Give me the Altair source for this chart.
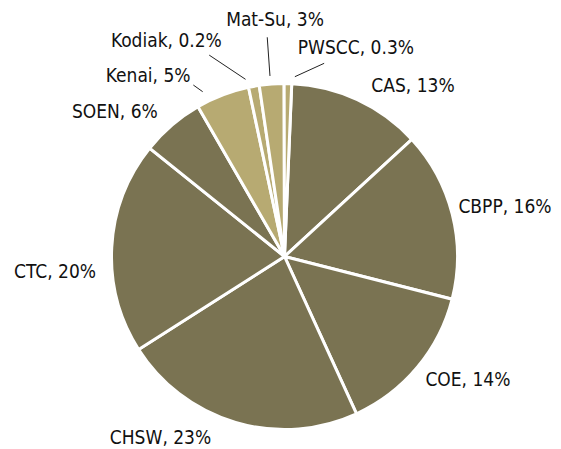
import math
import altair as alt
import pandas as pd

# ---- data ----
categories = ["CAS", "CBPP", "COE", "CHSW", "CTC", "SOEN", "Kenai", "Kodiak", "Mat-Su", "PWSCC"]
values = [12.5, 15.8, 14.2, 22.8, 19.8, 5.9, 5.0, 1.0, 2.3, 0.7]
label_pct = ["13%", "16%", "14%", "23%", "20%", "6%", "5%", "0.2%", "3%", "0.3%"]
shade = ["dark", "dark", "dark", "dark", "dark", "dark", "light", "light", "light", "light"]

# ---- layout (polar, degrees clockwise from 12 o'clock; radius in px) ----
W, H = 545, 433
CX, CY = 276.5, 248.5
R = 173
START_DEG = 2.4
label_angle = [37.0, 77.3, 123.9, 214.3, 266.1, 310.4, 322.9, 331.3, 357.7, 18.9]
label_radius = [213.5, 226, 221, 220, 230, 222.7, 226, 246.0, 236.5, 220.4]
leader_cats = ["Kenai", "Kodiak", "Mat-Su", "PWSCC"]
leader_in = [(333.6, 184.0), (347.6, 181.4), (355.4, 181.1), (3.3, 180.1)]
leader_out = [(332.0, 194.2), (339.5, 215.0), (355.5, 219.9), (11.6, 197.2)]


def polar(a_deg, r):
    a = math.radians(a_deg)
    return CX + r * math.sin(a), CY - r * math.cos(a)


pie = pd.DataFrame({
    "cat": categories,
    "value": values,
    "shade": shade,
    "idx": list(range(len(categories))),
})

lab_rows = []
for c, p, a, r in zip(categories, label_pct, label_angle, label_radius):
    x, y = polar(a, r)
    lab_rows.append({"text": f"{c}, {p}", "lx": x, "ly": y})
labels = pd.DataFrame(lab_rows)

lead_rows = []
for c, (ai, ri), (ao, ro) in zip(leader_cats, leader_in, leader_out):
    x1, y1 = polar(ai, ri)
    x2, y2 = polar(ao, ro)
    lead_rows.append({"cat": c, "x1": x1, "y1": y1, "x2": x2, "y2": y2})
leaders = pd.DataFrame(lead_rows)

total = sum(values)
start = math.radians(START_DEG)

arcs = alt.Chart(pie).mark_arc(radius=R, stroke="white", strokeWidth=3).encode(
    theta=alt.Theta("value:Q", stack=True,
                    scale=alt.Scale(domain=[0, total], range=[start, start + 2 * math.pi])),
    color=alt.Color("shade:N", scale=alt.Scale(domain=["dark", "light"],
                                               range=["#7A7352", "#B7AA72"]), legend=None),
    order=alt.Order("idx:Q"),
    x=alt.value(CX),
    y=alt.value(CY),
)

text = alt.Chart(labels).mark_text(
    font="DejaVu Sans Condensed, Liberation Sans, sans-serif", fontSize=19, color="#111111",
    align="center", baseline="middle"
).encode(
    x=alt.X("lx:Q", scale=None, axis=None),
    y=alt.Y("ly:Q", scale=None, axis=None),
    text="text:N",
)

lines = alt.Chart(leaders).mark_rule(color="#222222", strokeWidth=1).encode(
    x=alt.X("x1:Q", scale=None, axis=None),
    y=alt.Y("y1:Q", scale=None, axis=None),
    x2="x2:Q",
    y2="y2:Q",
)

chart = alt.layer(arcs, lines, text).properties(
    width=W, height=H, padding=0
).configure_view(stroke=None)

chart.save("out.html", embed_options={"renderer": "svg", "actions": False})
